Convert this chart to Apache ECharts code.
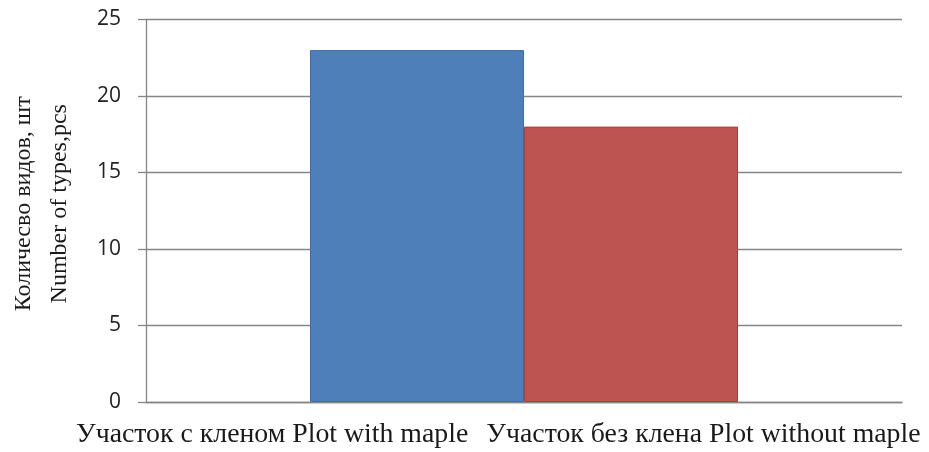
<!DOCTYPE html>
<html>
<head>
<meta charset="utf-8">
<script src="https://cdn.jsdelivr.net/npm/echarts@6/dist/echarts.min.js"></script>
<style>html,body{margin:0;padding:0;background:#fff;}#c{width:929px;height:452px;}</style>
</head>
<body>
<div id="c"></div>
<script>
const categories = [''];
const seriesNames = ['Участок с кленом Plot with maple', 'Участок без клена Plot without maple'];
const withMaple = [23];
const withoutMaple = [18];
const yTicks = { min: 0, max: 25, interval: 5 };
const yTitle = 'Количесво видов, шт\nNumber of types,pcs';

const chart = echarts.init(document.getElementById('c'), null, { renderer: 'canvas' });
chart.setOption({
  animation: false,
  backgroundColor: '#ffffff',
  grid: { left: 146, right: 27, top: 19.5, bottom: 50, containLabel: false, outerBoundsMode: 'none' },
  legend: {
    data: seriesNames,
    selectedMode: false,
    left: 70, top: 421, padding: 0, width: 2000,
    itemWidth: 0, itemHeight: 0, itemGap: 12,
    textStyle: { fontFamily: 'Liberation Serif', fontSize: 27.8, color: '#1a1a1a' }
  },
  xAxis: {
    type: 'category',
    data: categories,
    axisLine: { show: true, lineStyle: { color: '#868686', width: 1.3 } },
    axisTick: { show: false },
    axisLabel: { show: false }
  },
  yAxis: {
    type: 'value',
    min: yTicks.min, max: yTicks.max, interval: yTicks.interval,
    name: yTitle,
    nameLocation: 'middle',
    nameRotate: 90,
    nameGap: 68,
    nameTextStyle: { fontFamily: 'Liberation Serif', fontSize: 24, color: '#1a1a1a', lineHeight: 36, align: 'center', padding: [0, 0, 0, 14] },
    axisLine: { show: true, lineStyle: { color: '#868686', width: 1.3 } },
    axisTick: { show: true, length: 8, lineStyle: { color: '#868686', width: 1.3 } },
    axisLabel: { fontFamily: 'Open Sans', fontSize: 21, color: '#222', margin: 25 },
    splitLine: { show: true, lineStyle: { color: '#868686', width: 1.3 } }
  },
  series: [
    { name: seriesNames[0], type: 'bar', data: withMaple, barWidth: 214, barGap: '0%',
      itemStyle: { color: '#4F7FB8', borderColor: '#3D6DAE', borderWidth: 1 } },
    { name: seriesNames[1], type: 'bar', data: withoutMaple, barWidth: 214, barGap: '0%',
      itemStyle: { color: '#BE5452', borderColor: '#B0393A', borderWidth: 1 } }
  ]
});
</script>
</body>
</html>
